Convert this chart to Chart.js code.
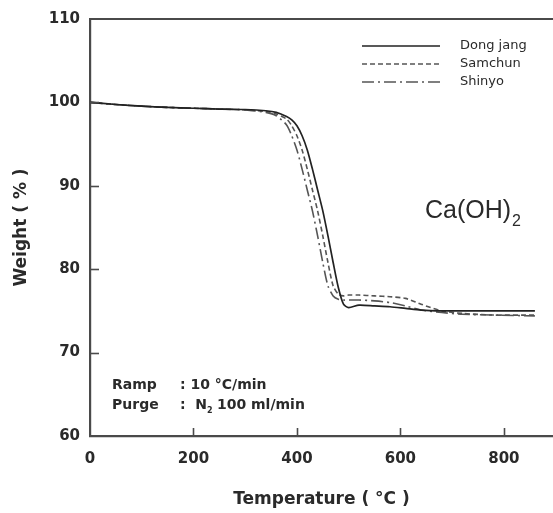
<!DOCTYPE html>
<html>
<head>
<meta charset="utf-8">
<script src="https://cdn.jsdelivr.net/npm/chart.js@4.4.1/dist/chart.umd.min.js"></script>
<style>
  html, body { margin: 0; padding: 0; background: #fff; }
  #wrap { width: 553px; height: 513px; position: relative; }
</style>
</head>
<body>
<div id="wrap"><canvas id="c"></canvas></div>
<script>
// ---- data ----
const temperature = [0,50,100,150,200,250,300,340,360,380,390,400,410,420,430,440,450,460,470,480,490,500,520,550,580,610,640,680,720,780,860];
const dongYang = [100,99.75,99.55,99.4,99.3,99.2,99.15,99.0,98.8,98.3,97.9,97.2,96.0,94.3,92.0,89.5,87.0,84.0,80.8,77.8,75.8,75.4,75.7,75.6,75.5,75.3,75.1,75.0,75.0,75.0,75.0];
const samchun  = [100,99.75,99.55,99.4,99.3,99.2,99.1,98.9,98.6,98.0,97.2,96.0,94.3,92.0,89.5,87.0,84.0,80.8,78.0,77.0,76.8,76.9,76.9,76.8,76.7,76.5,75.8,75.0,74.7,74.5,74.5];
const shinyo   = [100,99.75,99.55,99.4,99.3,99.2,99.1,98.8,98.4,97.3,96.0,94.3,92.0,89.5,87.0,84.0,80.8,78.0,76.8,76.4,76.3,76.3,76.3,76.2,76.0,75.6,75.1,74.8,74.6,74.5,74.4];
const seriesNames = ['Dong jang', 'Samchun', 'Shinyo'];
const xTicks = [0,200,400,600,800];
const yTicks = [60,70,80,90,100,110];

const ink = '#2a2a2a';
const axisColor = '#4a4a4a';

function pts(ys) { return temperature.map((t, i) => ({x: t, y: ys[i]})); }

const insideTicks = {
  id: 'insideTicks',
  afterDraw(chart) {
    const {ctx, chartArea: a, scales} = chart;
    ctx.save();
    ctx.strokeStyle = axisColor;
    ctx.lineWidth = 2;
    // top border
    ctx.beginPath();
    ctx.moveTo(a.left - 1, a.top);
    ctx.lineTo(a.right, a.top);
    ctx.stroke();
    ctx.lineWidth = 1.6;
    xTicks.forEach(v => {
      if (v === xTicks[0]) return;
      const px = Math.round(scales.x.getPixelForValue(v)) + 0.5;
      ctx.beginPath(); ctx.moveTo(px, a.bottom); ctx.lineTo(px, a.bottom - 8); ctx.stroke();
    });
    yTicks.forEach(v => {
      if (v === yTicks[0] || v === yTicks[yTicks.length-1]) return;
      const py = Math.round(scales.y.getPixelForValue(v)) + 0.5;
      ctx.beginPath(); ctx.moveTo(a.left, py); ctx.lineTo(a.left + 9, py); ctx.stroke();
    });
    // legend
    const ds = chart.data.datasets;
    const lx0 = 362, lx1 = 440, ly0 = 46, dy = 18;
    ds.forEach((d, i) => {
      const y = ly0 + i * dy;
      ctx.strokeStyle = d.borderColor;
      ctx.lineWidth = 1.6;
      ctx.setLineDash(d.borderDash || []);
      ctx.beginPath(); ctx.moveTo(lx0, y); ctx.lineTo(lx1, y); ctx.stroke();
      ctx.setLineDash([]);
      ctx.fillStyle = ink;
      ctx.font = '13px "DejaVu Sans"';
      ctx.textBaseline = 'middle';
      ctx.textAlign = 'left';
      ctx.fillText(d.label, 460, y);
    });
    // annotations
    ctx.fillStyle = ink;
    ctx.textBaseline = 'alphabetic';
    ctx.font = '25px "Liberation Sans"';
    ctx.fillText('Ca(OH)', 425, 218);
    const w = ctx.measureText('Ca(OH)').width;
    ctx.font = '16px "Liberation Sans"';
    ctx.fillText('2', 425 + w + 1, 226);

    ctx.font = 'bold 14px "DejaVu Sans"';
    ctx.fillText('Ramp', 112, 389);
    ctx.fillText('Purge', 112, 409);
    ctx.fillText(': 10 \u00B0C/min', 180, 389);
    ctx.fillText(':  N', 180, 409);
    let nx = 180 + ctx.measureText(':  N').width;
    ctx.font = 'bold 8px "DejaVu Sans"';
    ctx.fillText('2', nx, 413);
    ctx.font = 'bold 14px "DejaVu Sans"';
    ctx.fillText(' 100 ml/min', nx + 5, 409);
    ctx.restore();
  }
};

new Chart(document.getElementById('c'), {
  type: 'line',
  data: {
    datasets: [
      { label: seriesNames[0], data: pts(dongYang), borderColor: '#222', borderWidth: 1.7, borderDash: [], pointRadius: 0, tension: 0.25 },
      { label: seriesNames[1], data: pts(samchun), borderColor: '#555', borderWidth: 1.6, borderDash: [5, 3], pointRadius: 0, tension: 0.25 },
      { label: seriesNames[2], data: pts(shinyo), borderColor: '#555', borderWidth: 1.6, borderDash: [12, 4, 2, 4], pointRadius: 0, tension: 0.25 }
    ]
  },
  options: {
    responsive: true,
    maintainAspectRatio: false,
    animation: false,
    layout: { padding: { top: 17, right: 0, left: 0, bottom: 0 } },
    plugins: { legend: { display: false }, tooltip: { enabled: false } },
    scales: {
      x: {
        type: 'linear', min: 0, max: 895,
        afterBuildTicks(s) { s.ticks = xTicks.map(v => ({value: v})); },
        afterFit(s) { s.height = 77; },
        grid: { display: false, drawTicks: false },
        border: { display: true, color: axisColor, width: 2.2 },
        ticks: { color: ink, padding: 14, font: { family: 'DejaVu Sans', weight: 'bold', size: 15 }, maxRotation: 0 },
        title: { display: true, text: 'Temperature ( \u00B0C )', color: ink, padding: { top: 0, bottom: 3 }, font: { family: 'DejaVu Sans', weight: 'bold', size: 17 } }
      },
      y: {
        type: 'linear', min: 60, max: 110,
        afterBuildTicks(s) { s.ticks = yTicks.map(v => ({value: v})); },
        afterFit(s) { s.width = 90; },
        grid: { display: false, drawTicks: false },
        border: { display: true, color: axisColor, width: 2.2 },
        ticks: { color: ink, padding: 10, font: { family: 'DejaVu Sans', weight: 'bold', size: 15 } },
        title: { display: true, text: 'Weight ( % )', color: ink, padding: { top: 11, bottom: 0 }, font: { family: 'DejaVu Sans', weight: 'bold', size: 17 } }
      }
    }
  },
  plugins: [insideTicks]
});
</script>
</body>
</html>
